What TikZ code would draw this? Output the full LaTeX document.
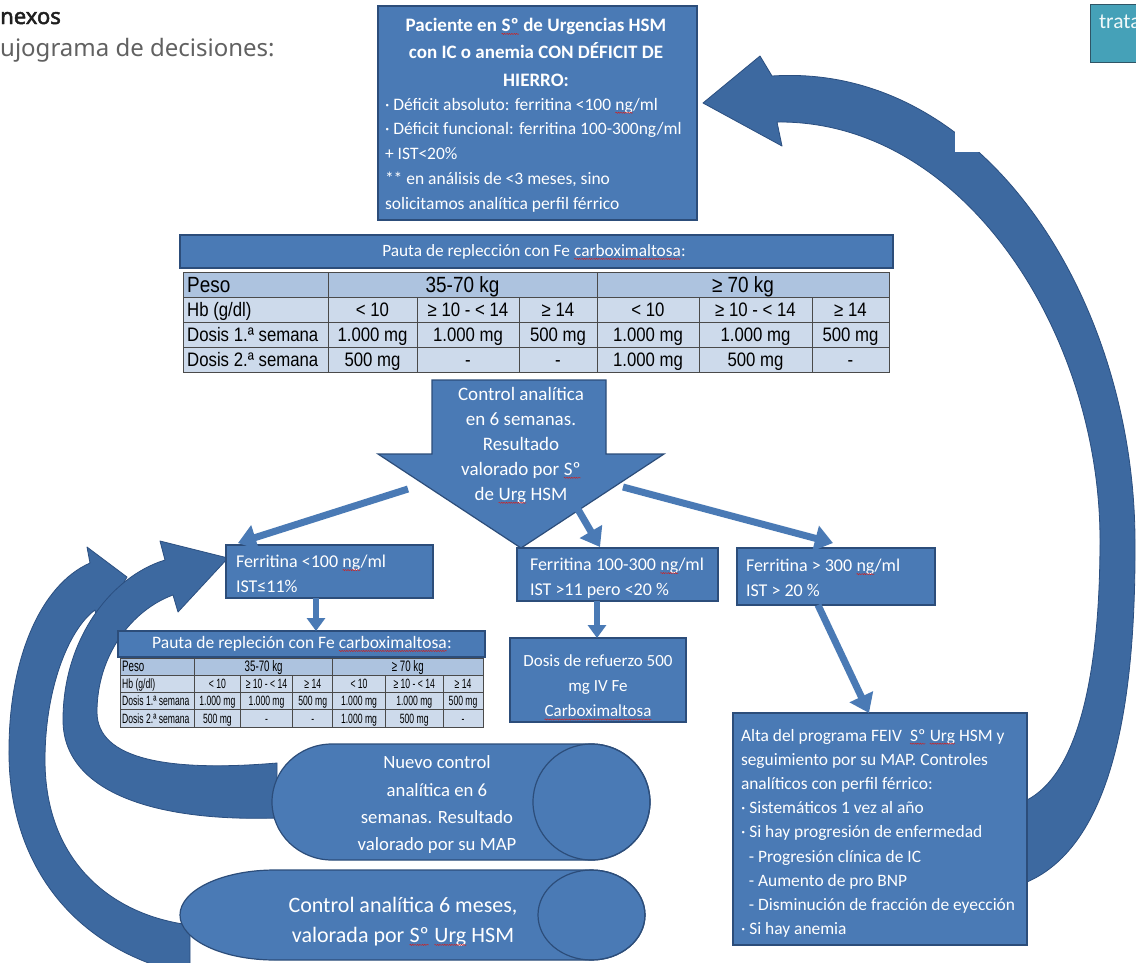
\documentclass[tikz,border=0pt]{standalone}
\usepackage{fontspec}
\setmainfont{Carlito}
\newfontfamily\tabfont[FakeStretch=0.86]{Liberation Sans}
\newfontfamily\webfont{Noto Sans}
\newfontfamily\webbold[FakeBold=2.2]{Noto Sans}
\usetikzlibrary{arrows.meta,calc,decorations.pathmorphing}
\definecolor{boxblue}{HTML}{4A7AB5}
\definecolor{boxedge}{HTML}{2C4D7A}
\definecolor{arcblue}{HTML}{3D69A0}
\definecolor{arcedge}{HTML}{2B4F80}
\definecolor{rowA}{HTML}{ADC3DF}
\definecolor{rowB}{HTML}{CDDAEB}
\definecolor{gridc}{HTML}{4A4A4A}
\definecolor{teal1}{HTML}{45A1B8}
\definecolor{tealedge}{HTML}{2F5566}
\definecolor{spell}{HTML}{D02020}
\newcommand\fs[2]{\fontsize{#1}{#2}\selectfont}
\newcommand\wav[1]{\tikz[baseline=(wv.base)]{\node[inner sep=0pt,outer sep=0pt,text width={},align=none,minimum width=0pt,minimum height=0pt,anchor=base](wv) at (0,0){#1};\draw[spell,line width=0.45pt,decorate,decoration={snake,amplitude=0.6pt,segment length=2.4pt}]([yshift=-2.6pt]wv.base west)--([yshift=-2.6pt]wv.base east);}}
\newcommand\fetable[1]{%
 \fill[rowA] (0,0) rectangle (706,25);
 \fill[rowB] (0,25) rectangle (706,100);
 \draw[gridl] (0,0) rectangle (706,100);
 \foreach \yy in {25,50,75} {\draw[gridl] (0,\yy) -- (706,\yy);}
 \foreach \xx in {145,414} {\draw[gridl] (\xx,0) -- (\xx,100);}
 \foreach \xx in {234,336,516,629} {\draw[gridl] (\xx,25) -- (\xx,100);}
 \node[cellL,font=\tabfont\fs{22}{24}] (#1-1-1) at (4,20) {Peso};
 \node[cellC,font=\tabfont\fs{22}{24}] (#1-1-2) at (279.5,20) {35-70 kg};
 \node[cellC,font=\tabfont\fs{22}{24}] (#1-1-3) at (560,20) {≥ 70 kg};
 \foreach \r/\yb/\lab/\va/\vb/\vc/\vd/\ve/\vf in {
  2/44.5/{Hb (g/dl)}/{< 10}/{≥ 10 - < 14}/{≥ 14}/{< 10}/{≥ 10 - < 14}/{≥ 14},
  3/69.5/{Dosis 1.ª semana}/{1.000 mg}/{1.000 mg}/{500 mg}/{1.000 mg}/{1.000 mg}/{500 mg},
  4/94.5/{Dosis 2.ª semana}/{500 mg}/{-}/{-}/{1.000 mg}/{500 mg}/{-}}{
  \node[cellL,font=\tabfont\fs{19.5}{22}] (#1-\r-1) at (4,\yb) {\lab};
  \node[cellC,font=\tabfont\fs{19.5}{22}] (#1-\r-2) at (189.5,\yb) {\va};
  \node[cellC,font=\tabfont\fs{19.5}{22}] (#1-\r-3) at (285,\yb) {\vb};
  \node[cellC,font=\tabfont\fs{19.5}{22}] (#1-\r-4) at (375,\yb) {\vc};
  \node[cellC,font=\tabfont\fs{19.5}{22}] (#1-\r-5) at (465,\yb) {\vd};
  \node[cellC,font=\tabfont\fs{19.5}{22}] (#1-\r-6) at (572.5,\yb) {\ve};
  \node[cellC,font=\tabfont\fs{19.5}{22}] (#1-\r-7) at (667.5,\yb) {\vf};
 }
}
\begin{document}
\begin{tikzpicture}[x=1pt,y=-1pt,
  box/.style={draw=boxedge,fill=boxblue,line width=1.2pt,inner sep=0pt,outer sep=0pt},
  txt/.style={text=white,inner sep=0pt,outer sep=0pt},
  conn/.style={draw=boxblue,line width=7pt,-{Triangle[length=18pt,width=25pt]}},
  conns/.style={draw=boxblue,line width=5.5pt,-{Triangle[length=13pt,width=18pt]}},
  arcsh/.style={fill=arcblue,draw=arcedge,line width=0.8pt,line join=round},
  gridl/.style={draw=gridc,line width=0.7pt},
  cellL/.style={inner sep=0pt,anchor=base west,text=black},
  cellC/.style={inner sep=0pt,anchor=base,text=black},
  cyl/.style={fill=boxblue,draw=boxedge,line width=1.2pt}
]
\useasboundingbox (0,0) rectangle (1136,962);
\fill[white] (0,0) rectangle (1136,962);

% page heading (cut at left edge)
\node[anchor=base west,inner sep=0pt,font=\webbold\fs{22}{26},text=black!88] (hd1) at (0,24) {nexos};
\node[anchor=base west,inner sep=0pt,font=\webfont\fs{24}{28},text=black!62] (hd2) at (0,56) {ujograma de decisiones:};

% teal box top right
\node[draw=tealedge,fill=teal1,line width=1.2pt,minimum width=60pt,minimum height=58pt,anchor=north west,inner sep=0pt] (tr) at (1090,4) {};
\node[anchor=base west,txt,font=\fs{21.5}{23},text=white!92!teal1] (trt) at (1099,28) {trata};

% curved arrows
\path[arcsh] (1027,882) .. controls (1112,845) and (1136,705) .. (1135,540)
 .. controls (1134,300) and (985,62) .. (772,76)
 -- (760,56) -- (703,103) -- (782,146) -- (777,122)
 .. controls (965,120) and (1100,335) .. (1100,540)
 .. controls (1100,685) and (1075,775) .. (1027,800) -- cycle;
\path[arcsh] (90,563) -- (87,547) -- (127,577) -- (98,628) -- (95,610)
 .. controls (68,630) and (45,690) .. (45,760)
 .. controls (45,860) and (110,915) .. (190,925)
 -- (190,975)
 .. controls (70,950) and (8,860) .. (9,750)
 .. controls (9,660) and (40,585) .. (90,563) -- cycle;
\path[arcsh] (165,560) -- (160,541) -- (228,558) -- (178,612) -- (173,595)
 .. controls (132,610) and (97,655) .. (97,712)
 .. controls (97,760) and (170,772) .. (277,763)
 -- (277,818)
 .. controls (150,822) and (63,790) .. (63,720)
 .. controls (63,640) and (110,577) .. (165,560) -- cycle;
\fill[white] (955,123) rectangle (1136,152);

% top box
\node[box,minimum width=319pt,minimum height=214pt] (tb) at (537.5,113) {};
\node[txt,align=center,anchor=north,font=\bfseries\fs{19}{27.5}] (tbt) at (536,18) {Paciente en \wav{Sº} de Urgencias HSM\\con IC o anemia CON DÉFICIT DE\\HIERRO:};
\node[txt,align=left,anchor=north west,font=\fs{17.5}{24.8}] (tbb) at (385,98) {· Déficit absoluto: ferritina <100 \wav{ng}/ml\\· Déficit funcional: ferritina 100-300ng/ml\\+ IST<20\%\\** en análisis de <3 meses, sino\\solicitamos analítica perfil férrico};

% big table
\node[box,minimum width=713pt,minimum height=33pt] (bh) at (536.5,251.5) {};
\node[txt,font=\fs{17.3}{20}] (bht) at (534,252) {Pauta de replección con Fe \wav{carboximaltosa}:};
\begin{scope}[shift={(183,272)}]
\fetable{bt}
\end{scope}

% big down arrow
\path[box] (432,380) -- (606,380) -- (606,454) -- (664,454) -- (521,548) -- (378,454) -- (432,454) -- cycle;
\node[txt,align=center,anchor=north,font=\fs{19}{25}] (bat) at (521,387) {Control analítica\\en 6 semanas.\\Resultado\\valorado por \wav{Sº}\\de \wav{Urg} HSM};
\coordinate (bL) at (408,489);
\coordinate (bM) at (576,506);
\coordinate (bR) at (623,487);

% result boxes
\node[box,minimum width=207pt,minimum height=53pt] (f1) at (329.5,571.5) {};
\node[txt,align=left,anchor=north west,font=\fs{18}{25}] (f1t) at (236,555) {Ferritina <100 \wav{ng}/ml\\IST≤11\%};
\node[box,minimum width=201pt,minimum height=53pt] (f2) at (617.5,574.5) {};
\node[txt,align=left,anchor=north west,font=\fs{18}{25}] (f2t) at (530,558) {Ferritina 100-300 \wav{ng}/ml\\IST >11 pero <20 \%};
\node[box,minimum width=198pt,minimum height=57pt] (f3) at (836,576.5) {};
\node[txt,align=left,anchor=north west,font=\fs{18}{25}] (f3t) at (746,559) {Ferritina > 300 \wav{ng}/ml\\IST > 20 \%};

\draw[conn] (bL) -- ($(f1.north west)+(12,-2)$);
\draw[conn] (bM) -- ($(f2.north west)+(83,-1)$);
\draw[conn] (bR) -- ($(f3.north west)+(96,-5)$);

% small table
\node[box,minimum width=367pt,minimum height=26pt] (sh) at (301.5,644) {};
\node[txt,font=\fs{17.5}{20}] (sht) at (302,644) {Pauta de repleción con Fe \wav{carboximaltosa}:};
\begin{scope}[shift={(120,658)},xscale=0.514,yscale=0.69,transform shape]
\fetable{st}
\end{scope}

% refuerzo
\node[box,minimum width=176pt,minimum height=84pt] (rf) at (598,680) {};
\node[txt,align=center,anchor=north,font=\fs{17}{25}] (rft) at (598,655) {Dosis de refuerzo 500\\mg IV Fe\\\wav{Carboximaltosa}};

% alta box
\node[box,minimum width=294pt,minimum height=232pt] (al) at (880,829) {};
\node[txt,align=left,anchor=north west,font=\fs{17.4}{24.2}] (alt) at (741,729) {Alta del programa FEIV\ \ \wav{Sº} \wav{Urg} HSM y\\seguimiento por su MAP. Controles\\analíticos con perfil férrico:\\· Sistemáticos 1 vez al año\\· Si hay progresión de enfermedad\\\ \ - Progresión clínica de IC\\\ \ - Aumento de pro BNP\\\ \ - Disminución de fracción de eyección\\· Si hay anemia};

\draw[conns] ($(f1.south west)+(90,0)$) -- ($(sh.north west)+(198,0)$);
\draw[conns] ($(f2.south west)+(80,0)$) -- ($(rf.north west)+(87,0)$);
\draw[conn] ($(f3.south west)+(81,0)$) -- ($(al.north west)+(136,0)$);

% cylinders
\path[cyl] (332,744) -- (591.5,744) arc[start angle=-90,end angle=90,x radius=58.5,y radius=58] -- (332,860) arc[start angle=90,end angle=270,x radius=60,y radius=58] -- cycle;
\draw[boxedge,line width=1.2pt] (591.5,802) ellipse[x radius=58.5,y radius=58];
\node[txt,align=center,anchor=north,font=\fs{18.7}{27.3}] (o1t) at (437,756) {Nuevo control\\analítica en 6\\semanas. Resultado\\valorado por su MAP};

\path[cyl] (275,870) -- (591.5,870) arc[start angle=-90,end angle=90,x radius=53.5,y radius=45] -- (275,960) arc[start angle=90,end angle=270,x radius=95,y radius=45] -- cycle;
\draw[boxedge,line width=1.2pt] (591.5,915) ellipse[x radius=53.5,y radius=45];
\node[txt,align=center,anchor=north,font=\fs{22}{30}] (o2t) at (403,897) {Control analítica 6 meses,\\valorada por \wav{Sº} \wav{Urg} HSM};
\end{tikzpicture}
\end{document}
